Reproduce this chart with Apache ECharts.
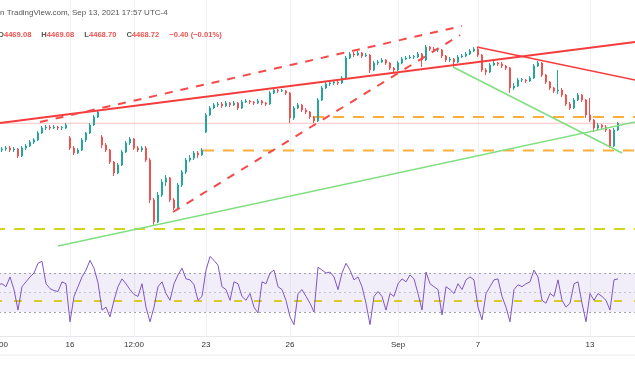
<!DOCTYPE html>
<html><head><meta charset="utf-8">
<script src="https://cdn.jsdelivr.net/npm/echarts@6/dist/echarts.min.js"></script>
<style>html,body{margin:0;padding:0;background:#fff}#c{width:635px;height:380px}</style>
</head><body><div id="c"></div>
<script>
// ---- tick labels (bar index -> label) ----
const tickIndex = [1, 19, 35, 53, 74, 101, 121, 149];
const tickLabels = ['12:00', '16', '12:00', '23', '26', 'Sep', '7', '13'];
const barCount = 162;

// ---- candles: [open, close, low, high] ----
const candles = [
[4440,4441,4438,4443],[4441,4442,4439,4444],[4442,4443,4440,4445],[4443,4444,4441,4446],[4444,4442,4440,4446],
[4442,4443,4440,4445],[4443,4436,4434,4444],[4436,4444,4435,4446],[4444,4446,4442,4448],[4446,4450,4445,4452],
[4450,4452,4448,4454],[4452,4459,4451,4461],[4459,4464,4458,4466],[4464,4465,4462,4467],[4465,4464,4462,4467],
[4464,4465,4463,4467],[4465,4464,4462,4466],[4464,4464.5,4462,4466],[4464,4467,4463,4469],[4454,4444,4442,4456],
[4444,4439,4437,4446],[4439,4442,4438,4444],[4442,4452,4441,4454],[4452,4459,4450,4460],[4459,4467,4458,4469],
[4467,4475,4466,4477],[4475,4480,4474,4482],[4455,4447,4444,4457],[4447,4442,4440,4449],[4442,4430,4428,4443],
[4430,4419,4416,4431],[4419,4427,4418,4429],[4427,4440,4426,4442],[4440,4449,4439,4451],[4449,4453,4447,4455],
[4453,4444,4442,4454],[4444,4442,4440,4446],[4442,4444,4440,4446],[4444,4432,4430,4446],[4432,4392,4389,4434],
[4392,4370,4367,4394],[4370,4397,4369,4400],[4397,4410,4395,4413],[4410,4414,4406,4417],[4414,4392,4390,4415],
[4392,4384,4382,4394],[4384,4407,4383,4409],[4407,4420,4405,4422],[4420,4432,4418,4434],[4432,4434,4430,4437],
[4434,4439,4432,4441],[4439,4437,4434,4441],[4437,4442,4436,4444],[4460,4477,4459,4479],[4477,4484,4476,4486],
[4484,4487,4483,4489],[4487,4488,4485,4490],[4488,4486,4484,4490],[4486,4489,4485,4491],[4489,4487,4485,4490],
[4487,4489,4486,4491],[4489,4484,4482,4490],[4484,4490,4483,4492],[4490,4491,4489,4493],[4491,4490,4488,4492],
[4490,4489,4487,4491],[4489,4491,4488,4493],[4491,4489,4487,4492],[4489,4488,4486,4490],[4488,4499,4487,4501],
[4499,4502,4498,4504],[4502,4501,4499,4503],[4501,4501.5,4500,4503],[4501,4499,4497,4502],[4499,4474,4469,4500],
[4474,4484,4472,4486],[4484,4487,4483,4489],[4487,4482,4480,4488],[4482,4480,4478,4484],[4480,4475,4473,4481],
[4475,4471,4469,4476],[4471,4492,4470,4494],[4492,4504,4491,4506],[4504,4508,4503,4510],[4508,4509,4506,4511],
[4509,4510,4507,4512],[4510,4509,4507,4512],[4509,4514,4508,4516],[4514,4534,4513,4536],[4534,4538,4533,4540],
[4538,4537,4535,4540],[4537,4539,4536,4541],[4539,4536,4534,4540],[4536,4537,4535,4539],[4537,4522,4519,4538],
[4522,4529,4521,4531],[4529,4530,4527,4532],[4530,4532,4529,4534],[4532,4529,4527,4533],[4529,4524,4522,4530],
[4524,4522,4520,4525],[4522,4529,4521,4531],[4529,4533,4528,4535],[4533,4534,4532,4536],[4534,4535,4533,4537],
[4535,4535.5,4533,4537],[4535,4538,4534,4540],[4538,4532,4525,4539],[4532,4545,4531,4547],[4545,4543,4541,4546],
[4543,4542,4540,4545],[4542,4542.5,4540,4544],[4542,4536,4534,4543],[4536,4532,4530,4537],[4532,4533,4530,4535],
[4533,4530,4525,4534],[4530,4535,4529,4537],[4535,4536,4534,4538],[4536,4538,4535,4540],[4538,4541,4537,4543],
[4541,4543,4540,4545],[4543,4537,4535,4545],[4537,4522,4520,4538],[4522,4520,4517,4524],[4520,4527,4519,4529],
[4527,4529,4526,4531],[4529,4528,4526,4530],[4528,4526,4524,4530],[4526,4524,4522,4527],[4524,4504,4499,4525],
[4504,4506,4502,4509],[4506,4512,4505,4514],[4512,4512.5,4510,4514],[4512,4511,4509,4513],[4511,4514,4510,4516],
[4514,4526,4513,4528],[4526,4529,4525,4531],[4529,4517,4515,4530],[4517,4510,4508,4518],[4510,4504,4502,4511],
[4504,4501,4499,4505],[4501,4502,4498,4522],[4502,4497,4495,4504],[4497,4488,4486,4498],[4488,4484,4482,4490],
[4484,4492,4483,4494],[4492,4497,4491,4499],[4497,4492,4490,4498],[4492,4477,4474,4493],[4477,4472,4470,4494],
[4472,4464,4460,4473],[4464,4467,4462,4469],[4467,4465,4463,4468],[4465,4462,4460,4467],[4462,4446,4444,4463],
[4446,4462,4445,4464],[4462,4468.72,4461,4470]
];

// ---- RSI values per bar ----
const rsi = [57,58,59,56,66,53,32,56,61,66,70,80,82,59,54,52,51,61,59,20,
46,56,66,73,83,75,60,32,35,25,42,56,64,59,53,48,46,59,35,20,
35,56,61,49,42,59,68,75,64,63,58,42,46,73,87,83,78,56,53,42,
61,59,46,42,49,35,29,61,59,70,73,56,53,42,25,17,49,53,46,39,
30,76,73,70,71,66,53,70,80,73,63,66,56,39,17,46,51,46,32,49,
46,59,64,61,68,64,49,32,71,59,56,53,27,56,53,49,59,53,63,66,
63,35,22,49,56,63,64,46,35,20,53,58,56,59,61,73,66,42,39,49,
46,63,42,35,39,59,61,39,20,49,42,49,46,42,32,63,64];

// ---- drawn lines: [barIndex, price] ----
const redTrend      = [[0, 4468.2], [161, 4550.4]];
const redDashUpper  = [[11.5, 4470], [117, 4566]];
const redDashLower  = [[44.75, 4380], [116.5, 4557]];
const redDown       = [[120.75, 4545], [161, 4511.4]];
const greenUp       = [[16, 4346], [161, 4470.6]];
const greenDown     = [[114.75, 4525], [157, 4439]];
const orangeLevel1  = [[79.75, 4475], [161, 4475]];
const orangeLevel2  = [[52.25, 4441.5], [161, 4441.5]];
const yellowLevel   = [[0, 4363], [161, 4363]];
const lastPrice     = [[0, 4468.72], [161, 4468.72]];
const rsiLevels = {upper: 70, middle: 50, lower: 30, marker: 42};

const cats = Array.from({length: barCount}, (_, i) => String(i));
const showTick = (i) => tickIndex.indexOf(i) >= 0;
const FONT = 'Liberation Sans';

function seg(data, color, width, type, z) {
  return {type: 'line', xAxisIndex: 2, yAxisIndex: 0, data: data, symbol: 'none', silent: true,
    z: z || 3, lineStyle: {color: color, width: width, type: type || 'solid'}};
}

const chart = echarts.init(document.getElementById('c'), null, {renderer: 'canvas'});
chart.setOption({
  animation: false,
  backgroundColor: '#ffffff',
  title: [
    {text: 'n TradingView.com, Sep 13, 2021 17:57 UTC-4', left: 0, top: 9, padding: 0,
     textStyle: {fontSize: 8, fontWeight: 'normal', color: '#555', fontFamily: FONT}},
    {text: '{g|O}{r|4469.08}  {g|H}{r|4469.08}  {g|L}{r|4468.70}  {g|C}{r|4468.72}  {r|\u22120.40 (\u22120.01%)}',
     left: -2, top: 26, padding: 0,
     textStyle: {rich: {g: {fontSize: 7.6, color: '#555', fontFamily: FONT}, r: {fontSize: 7.6, color: '#ef5350', fontFamily: FONT}}}}
  ],
  grid: [
    {left: -6, width: 644, top: 0, height: 258, containLabel: false, outerBoundsMode: 'none'},
    {left: -6, width: 644, top: 255, height: 81, containLabel: false, outerBoundsMode: 'none'}
  ],
  xAxis: [
    {type: 'category', gridIndex: 0, data: cats, boundaryGap: false,
     axisLine: {show: false}, axisTick: {show: false}, axisLabel: {show: false},
     splitLine: {show: true, interval: showTick, lineStyle: {color: '#f0f1f5', width: 1}}},
    {type: 'category', gridIndex: 1, data: cats, boundaryGap: false,
     axisLine: {show: true, lineStyle: {color: '#e6e7ec'}}, axisTick: {show: false},
     axisLabel: {show: true, interval: showTick, margin: 5, fontSize: 8, color: '#333', fontFamily: FONT,
       formatter: (v, i) => tickLabels[tickIndex.indexOf(Number(v))] || ''},
     splitLine: {show: true, interval: showTick, lineStyle: {color: '#f0f1f5', width: 1}}},
    {type: 'value', gridIndex: 0, min: 0, max: barCount - 1, show: false}
  ],
  yAxis: [
    {type: 'value', gridIndex: 0, min: 4334, max: 4592, show: false, splitLine: {show: false}},
    {type: 'value', gridIndex: 1, min: 5.4, max: 88.5, show: false, splitLine: {show: false}}
  ],
  graphic: [{type: 'line', shape: {x1: 0, y1: 355, x2: 635, y2: 355}, style: {stroke: '#eceef2', lineWidth: 1}, silent: true}],
  series: [
    seg(lastPrice, 'rgba(239,83,80,0.35)', 1, 'solid', 2),
    seg(yellowLevel, '#d2d41e', 2, [11, 9]),
    seg(orangeLevel1, '#ffae3b', 2, [11, 9]),
    seg(orangeLevel2, '#ffae3b', 2, [11, 9]),
    {type: 'candlestick', xAxisIndex: 0, yAxisIndex: 0, data: candles, barWidth: 2.2, z: 4,
     itemStyle: {color: '#26a69a', color0: '#ef5350', borderColor: '#26a69a', borderColor0: '#ef5350', borderWidth: 1}},
    seg(redTrend, '#f63b3b', 2, 'solid', 5),
    seg(redDashUpper, '#f64a4a', 2, [8, 8], 5),
    seg(redDashLower, '#f64a4a', 2, [8, 8], 5),
    seg(redDown, '#f63b3b', 1.6, 'solid', 5),
    seg(greenUp, '#80df80', 1.6, 'solid', 5),
    seg(greenDown, '#80df80', 1.6, 'solid', 5),
    {type: 'line', xAxisIndex: 1, yAxisIndex: 1, data: rsi, symbol: 'none', z: 5,
     lineStyle: {color: '#7e57c2', width: 1},
     markArea: {silent: true, itemStyle: {color: 'rgba(126,87,194,0.1)'},
       data: [[{yAxis: rsiLevels.upper}, {yAxis: rsiLevels.lower}]]},
     markLine: {silent: true, symbol: 'none', label: {show: false},
       data: [
         {yAxis: rsiLevels.upper, lineStyle: {color: '#a3a5ad', type: [2, 3], width: 1}},
         {yAxis: rsiLevels.middle, lineStyle: {color: '#c1c3c9', type: [2, 3], width: 1}},
         {yAxis: rsiLevels.lower, lineStyle: {color: '#a3a5ad', type: [2, 3], width: 1}},
         {yAxis: rsiLevels.marker, lineStyle: {color: '#d8cc2a', type: [8, 12], width: 2}}
       ]}}
  ]
});
</script></body></html>
